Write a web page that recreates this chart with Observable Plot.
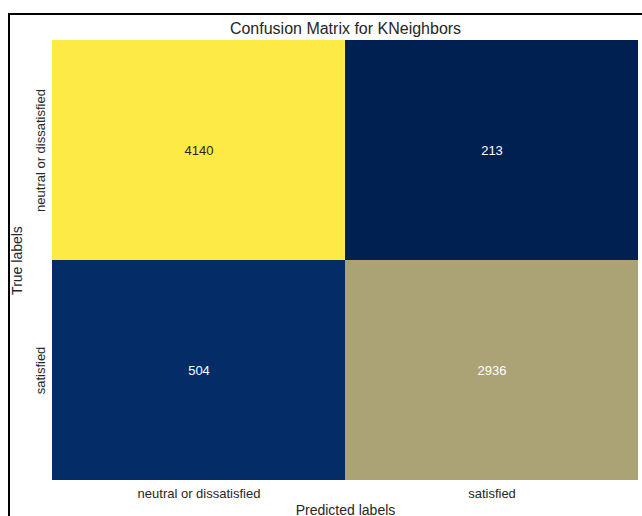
<!DOCTYPE html>
<html>
<head>
<meta charset="utf-8">
<script src="https://cdn.jsdelivr.net/npm/d3@7"></script>
<script src="https://cdn.jsdelivr.net/npm/@observablehq/plot@0.6"></script>
<style>
  html, body { margin: 0; padding: 0; background: #fff; overflow: hidden; }
  #wrap { position: relative; width: 642px; height: 516px; }
  #frame { position: absolute; left: 8px; top: 13px; width: 700px; height: 600px;
           border-left: 2px solid #000; border-top: 2px solid #000; box-sizing: border-box; pointer-events: none; }
  #chart { position: absolute; left: 0; top: 0; }
</style>
</head>
<body>
<div id="wrap">
  <div id="chart"></div>
  <div id="frame"></div>
</div>
<script>
const title = "Confusion Matrix for KNeighbors";
const predictedLabels = ["neutral or dissatisfied", "satisfied"];
const trueLabels = ["neutral or dissatisfied", "satisfied"];
const counts = [
  [4140, 213],
  [504, 2936]
];

const table = [];
trueLabels.forEach((t, i) => predictedLabels.forEach((p, j) => {
  table.push({truth: t, pred: p, count: counts[i][j]});
}));
const all = counts.flat();
const cmin = d3.min(all), cmax = d3.max(all);

const chart = Plot.plot({
  width: 642,
  height: 516,
  marginLeft: 52,
  marginRight: 4,
  marginTop: 40,
  marginBottom: 36,
  style: {fontFamily: "'Liberation Sans', Arial, sans-serif", fontSize: "13px", color: "#262626", background: "#fff"},
  x: {domain: predictedLabels, padding: 0},
  y: {domain: trueLabels, padding: 0},
  color: {type: "linear", scheme: "cividis", domain: [cmin, cmax]},
  marks: [
    Plot.cell(table, {x: "pred", y: "truth", fill: "count", inset: 0}),
    Plot.text(table, {x: "pred", y: "truth", text: d => String(d.count),
      fill: d => (d.count - cmin) / (cmax - cmin) > 0.8 ? "#262626" : "#ffffff", fontSize: 13}),
    Plot.axisX({tickSize: 0, tickPadding: 8, fontSize: 13, label: null}),
    Plot.axisX({ticks: [], tickSize: 0, fontSize: 14, label: "Predicted labels", labelAnchor: "center", labelArrow: "none", labelOffset: 34}),
    Plot.axisY({tickSize: 0, tickPadding: 8, tickRotate: -90, fontSize: 13, label: null}),
    Plot.axisY({ticks: [], tickSize: 0, fontSize: 14, label: "True labels", labelAnchor: "center", labelArrow: "none", labelOffset: 40}),
    Plot.text([title], {frameAnchor: "top", lineAnchor: "bottom", dy: -7, fontSize: 16, fill: "#262626"})
  ]
});
document.getElementById("chart").appendChild(chart);
</script>
</body>
</html>
